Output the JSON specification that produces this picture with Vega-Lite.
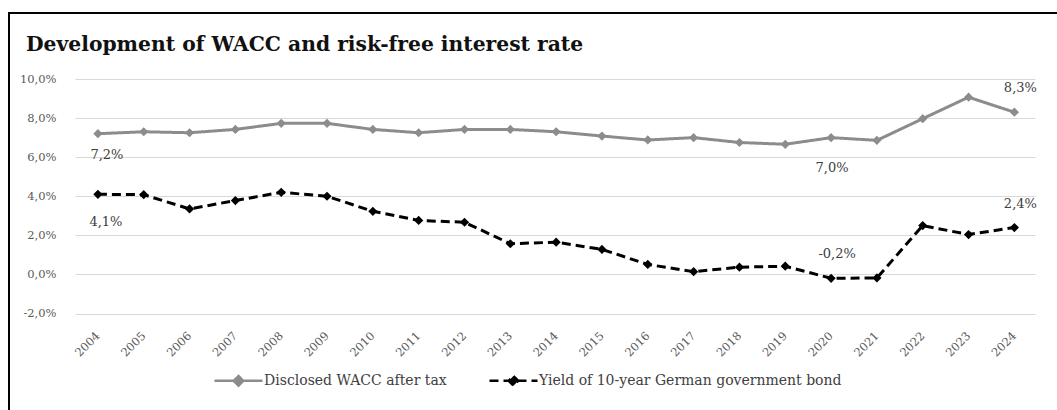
{
  "$schema": "https://vega.github.io/schema/vega-lite/v6.json",
  "width": 1053,
  "height": 402,
  "autosize": {"type": "none"},
  "padding": {"left": 9, "top": 13, "right": 0, "bottom": 0},
  "background": "white",
  "config": {
    "view": {"stroke": "black", "strokeWidth": 2},
    "font": "DejaVu Serif"
  },
  "title": {
    "text": "Development of WACC and risk-free interest rate",
    "anchor": "start",
    "frame": "group",
    "orient": "top",
    "offset": -58,
    "dx": 17,
    "baseline": "alphabetic",
    "font": "DejaVu Serif",
    "fontSize": 20.3,
    "fontWeight": "bold",
    "color": "#111111"
  },
  "data": {
    "values": [
      {"year": 2004, "series": "Disclosed WACC after tax", "value": 7.2},
      {"year": 2005, "series": "Disclosed WACC after tax", "value": 7.3},
      {"year": 2006, "series": "Disclosed WACC after tax", "value": 7.25},
      {"year": 2007, "series": "Disclosed WACC after tax", "value": 7.42},
      {"year": 2008, "series": "Disclosed WACC after tax", "value": 7.73},
      {"year": 2009, "series": "Disclosed WACC after tax", "value": 7.73},
      {"year": 2010, "series": "Disclosed WACC after tax", "value": 7.42},
      {"year": 2011, "series": "Disclosed WACC after tax", "value": 7.25},
      {"year": 2012, "series": "Disclosed WACC after tax", "value": 7.42},
      {"year": 2013, "series": "Disclosed WACC after tax", "value": 7.42},
      {"year": 2014, "series": "Disclosed WACC after tax", "value": 7.3},
      {"year": 2015, "series": "Disclosed WACC after tax", "value": 7.08},
      {"year": 2016, "series": "Disclosed WACC after tax", "value": 6.88},
      {"year": 2017, "series": "Disclosed WACC after tax", "value": 7.0},
      {"year": 2018, "series": "Disclosed WACC after tax", "value": 6.75},
      {"year": 2019, "series": "Disclosed WACC after tax", "value": 6.66},
      {"year": 2020, "series": "Disclosed WACC after tax", "value": 7.0},
      {"year": 2021, "series": "Disclosed WACC after tax", "value": 6.86},
      {"year": 2022, "series": "Disclosed WACC after tax", "value": 7.97},
      {"year": 2023, "series": "Disclosed WACC after tax", "value": 9.07},
      {"year": 2024, "series": "Disclosed WACC after tax", "value": 8.3},
      {"year": 2004, "series": "Yield of 10-year German government bond", "value": 4.1},
      {"year": 2005, "series": "Yield of 10-year German government bond", "value": 4.08},
      {"year": 2006, "series": "Yield of 10-year German government bond", "value": 3.35},
      {"year": 2007, "series": "Yield of 10-year German government bond", "value": 3.78},
      {"year": 2008, "series": "Yield of 10-year German government bond", "value": 4.2},
      {"year": 2009, "series": "Yield of 10-year German government bond", "value": 4.0},
      {"year": 2010, "series": "Yield of 10-year German government bond", "value": 3.23},
      {"year": 2011, "series": "Yield of 10-year German government bond", "value": 2.76},
      {"year": 2012, "series": "Yield of 10-year German government bond", "value": 2.67},
      {"year": 2013, "series": "Yield of 10-year German government bond", "value": 1.57},
      {"year": 2014, "series": "Yield of 10-year German government bond", "value": 1.65},
      {"year": 2015, "series": "Yield of 10-year German government bond", "value": 1.28},
      {"year": 2016, "series": "Yield of 10-year German government bond", "value": 0.51},
      {"year": 2017, "series": "Yield of 10-year German government bond", "value": 0.14},
      {"year": 2018, "series": "Yield of 10-year German government bond", "value": 0.37},
      {"year": 2019, "series": "Yield of 10-year German government bond", "value": 0.42},
      {"year": 2020, "series": "Yield of 10-year German government bond", "value": -0.2},
      {"year": 2021, "series": "Yield of 10-year German government bond", "value": -0.18},
      {"year": 2022, "series": "Yield of 10-year German government bond", "value": 2.5},
      {"year": 2023, "series": "Yield of 10-year German government bond", "value": 2.04},
      {"year": 2024, "series": "Yield of 10-year German government bond", "value": 2.4}
    ]
  },
  "transform": [
    {"calculate": "replace(replace(format(datum.value, '.1f'), '.', ','), '\u2212', '-') + '%'", "as": "lbl"}
  ],
  "encoding": {
    "x": {
      "field": "year",
      "type": "quantitative",
      "scale": {"domain": [2003.5, 2024.45], "range": [66, 1026], "nice": false, "zero": false},
      "axis": {
        "orient": "bottom",
        "values": [2004, 2005, 2006, 2007, 2008, 2009, 2010, 2011, 2012, 2013, 2014, 2015, 2016, 2017, 2018, 2019, 2020, 2021, 2022, 2023, 2024],
        "format": "d",
        "labelAngle": -45,
        "labelAlign": "right",
        "labelBaseline": "middle",
        "domain": false,
        "ticks": false,
        "grid": false,
        "offset": -81,
        "labelPadding": 0,
        "title": null,
        "labelFont": "DejaVu Serif",
        "labelFontSize": 11.5,
        "labelColor": "#595959",
        "labelOverlap": false
      }
    },
    "y": {
      "field": "value",
      "type": "quantitative",
      "scale": {"domain": [-2, 10], "range": [300.5, 66], "nice": false, "zero": false},
      "axis": {
        "values": [-2, 0, 2, 4, 6, 8, 10],
        "domain": false,
        "ticks": false,
        "labelPadding": 2,
        "offset": -49,
        "grid": true,
        "gridColor": "#d9d9d9",
        "gridWidth": 1,
        "title": null,
        "labelExpr": "replace(replace(format(datum.value, '.1f'), '.', ','), '\u2212', '-') + '%'",
        "labelFont": "DejaVu Serif",
        "labelFontSize": 11.5,
        "labelColor": "#595959"
      }
    }
  },
  "layer": [
    {
      "mark": {"type": "line", "strokeWidth": 3},
      "encoding": {
        "color": {
          "field": "series",
          "type": "nominal",
          "scale": {"domain": ["Disclosed WACC after tax", "Yield of 10-year German government bond"], "range": ["#8c8c8c", "#000000"]},
          "legend": {
            "orient": "none",
            "legendX": 222,
            "legendY": 360,
            "direction": "horizontal",
            "title": null,
            "symbolType": "M-4,0H4M0,-0.8L0.8,0L0,0.8L-0.8,0Z",
            "symbolSize": 144,
            "symbolStrokeWidth": 2.5,
            "labelOffset": 18,
            "labelLimit": 0,
            "columnPadding": 37,
            "labelFont": "DejaVu Serif",
            "labelFontSize": 14,
            "labelColor": "#404040"
          }
        },
        "strokeDash": {
          "field": "series",
          "type": "nominal",
          "scale": {"domain": ["Disclosed WACC after tax", "Yield of 10-year German government bond"], "range": [[1, 0], [9, 5]]},
          "legend": null
        }
      }
    },
    {
      "mark": {"type": "point", "shape": "diamond", "filled": true, "size": 85, "opacity": 1},
      "encoding": {
        "color": {"field": "series", "type": "nominal"}
      }
    },
    {
      "transform": [{"filter": "datum.year == 2004 && datum.series == 'Disclosed WACC after tax'"}],
      "mark": {"type": "text", "dy": 21, "dx": 9, "align": "center", "baseline": "middle", "fontSize": 13, "color": "#404040"},
      "encoding": {"text": {"field": "lbl"}}
    },
    {
      "transform": [{"filter": "datum.year == 2004 && datum.series != 'Disclosed WACC after tax'"}],
      "mark": {"type": "text", "dy": 28, "dx": 8, "align": "center", "baseline": "middle", "fontSize": 13, "color": "#404040"},
      "encoding": {"text": {"field": "lbl"}}
    },
    {
      "transform": [{"filter": "datum.year == 2020 && datum.series == 'Disclosed WACC after tax'"}],
      "mark": {"type": "text", "dy": 30, "dx": 1, "align": "center", "baseline": "middle", "fontSize": 13, "color": "#404040"},
      "encoding": {"text": {"field": "lbl"}}
    },
    {
      "transform": [{"filter": "(datum.year == 2020 && datum.series != 'Disclosed WACC after tax') || datum.year == 2024"}],
      "mark": {"type": "text", "dy": -24, "dx": 6, "align": "center", "baseline": "middle", "fontSize": 13, "color": "#404040"},
      "encoding": {"text": {"field": "lbl"}}
    }
  ]
}
